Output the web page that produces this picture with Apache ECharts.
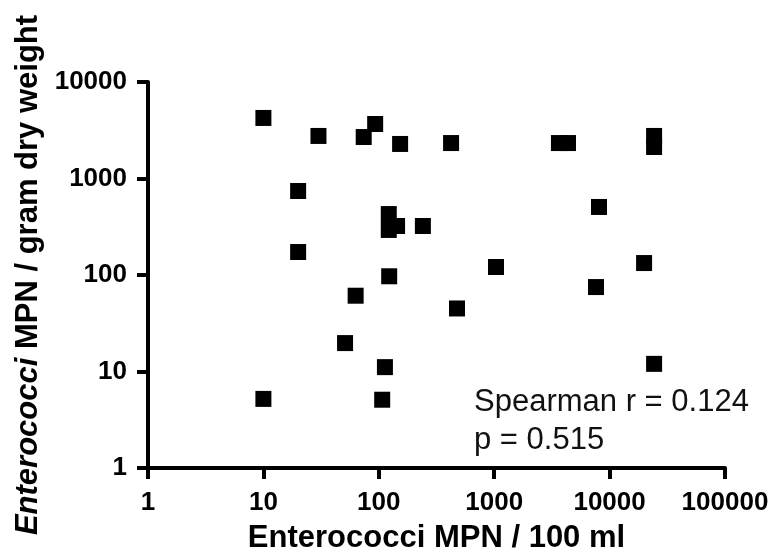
<!DOCTYPE html>
<html>
<head>
<meta charset="utf-8">
<script src="https://cdn.jsdelivr.net/npm/echarts@6/dist/echarts.min.js"></script>
<style>html,body{margin:0;padding:0;background:#fff;}#c{width:773px;height:556px;}</style>
</head>
<body>
<div id="c"></div>
<script>
// Water enterococci MPN / 100 ml (x) vs sediment MPN / gram dry weight (y)
const waterMPN = [10, 30, 20, 20, 10, 51, 63, 74, 93, 107, 113, 123, 122, 122, 144, 241, 153, 423, 1037, 476, 3640, 4360, 8090, 7620, 19900, 24300, 24300, 24300];
const sedimentMPN = [4240, 2760, 742, 173, 5.2, 19.7, 61, 2690, 3670, 5.1, 11.1, 97, 428, 293, 322, 322, 2280, 2330, 121, 45, 2330, 2330, 507, 75, 133, 2760, 2120, 12];
const xTicks = ['1', '10', '100', '1000', '10000', '100000'];
const yTicks = ['1', '10', '100', '1000', '10000'];
const statLines = ['Spearman r = 0.124', 'p = 0.515'];

const FONT = 'Arial, "Liberation Sans", sans-serif';
const points = waterMPN.map((x, i) => [x, sedimentMPN[i]]);
const chart = echarts.init(document.getElementById('c'), null, {renderer: 'canvas'});
const axisCommon = {
  type: 'log', logBase: 10,
  axisLine: {show: true, lineStyle: {color: '#000', width: 4}},
  axisTick: {show: true, inside: false, length: 11, lineStyle: {color: '#000', width: 4}},
  minorTick: {show: false},
  splitLine: {show: false},
  axisLabel: {color: '#000', fontFamily: FONT, fontWeight: 'bold', fontSize: 26,
    formatter: v => String(Math.round(v))},
  nameLocation: 'middle',
  nameTextStyle: {color: '#000', fontFamily: FONT, fontWeight: 'bold', fontSize: 31}
};
chart.setOption({
  animation: false,
  backgroundColor: '#fff',
  grid: {left: 148, right: 48, top: 82, bottom: 88, containLabel: false, outerBoundsMode: 'none'},
  xAxis: Object.assign({}, axisCommon, {
    min: Number(xTicks[0]), max: Number(xTicks[xTicks.length - 1]),
    name: 'Enterococci MPN / 100 ml', nameGap: 55,
    axisLabel: Object.assign({}, axisCommon.axisLabel, {margin: 22})
  }),
  yAxis: Object.assign({}, axisCommon, {
    min: Number(yTicks[0]), max: Number(yTicks[yTicks.length - 1]),
    name: '{i|Enterococci} MPN / gram dry weight', nameGap: 101,
    axisLabel: Object.assign({}, axisCommon.axisLabel, {margin: 21}),
    nameTextStyle: Object.assign({}, axisCommon.nameTextStyle, {
      fontSize: 31,
      rich: {i: {fontStyle: 'italic', fontWeight: 'bold', fontFamily: FONT, fontSize: 31, color: '#000'}}
    })
  }),
  series: [{
    type: 'scatter', symbol: 'rect', symbolSize: 16,
    itemStyle: {color: '#000', opacity: 1},
    data: points
  }],
  graphic: [{
    type: 'text', left: 474, top: 383,
    style: {text: statLines.join('\n'), fontFamily: FONT, fontSize: 31, lineHeight: 38, fill: '#111'}
  }]
});
</script>
</body>
</html>
